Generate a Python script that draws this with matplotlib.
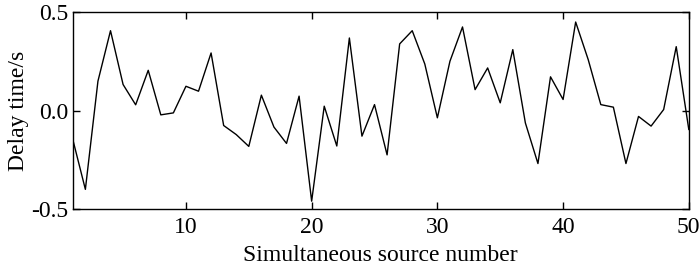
import matplotlib
matplotlib.use("Agg")
import matplotlib.pyplot as plt

plt.rcParams['font.family'] = ['Liberation Serif', 'DejaVu Serif']
plt.rcParams['axes.unicode_minus'] = False

source_number = list(range(1, 51))
delay_time = [-0.147, -0.40, 0.149, 0.405, 0.132, 0.029, 0.204, -0.022, -0.012, 0.123,
              0.098, 0.292, -0.076, -0.122, -0.182, 0.078, -0.084, -0.167, 0.073, -0.46,
              0.022, -0.18, 0.368, -0.130, 0.030, -0.225, 0.338, 0.405, 0.236, -0.037,
              0.25, 0.424, 0.106, 0.216, 0.039, 0.309, -0.063, -0.269, 0.171, 0.056,
              0.449, 0.258, 0.030, 0.017, -0.269, -0.030, -0.079, 0.005, 0.324, -0.096]
x_ticks = [10, 20, 30, 40, 50]
y_ticks = [-0.5, 0.0, 0.5]
y_tick_labels = ['-0.5', '0.0', '0.5']

fig = plt.figure(figsize=(7, 2.66), dpi=100)
ax = fig.add_axes([0.104, 0.214, 0.880, 0.741])
ax.plot(source_number, delay_time, color='black', linewidth=1.0)
ax.set_xlim(1, 50)
ax.set_ylim(-0.5, 0.5)
ax.set_xticks(x_ticks)
ax.set_yticks(y_ticks)
ax.set_yticklabels(y_tick_labels)
ax.tick_params(direction='in', top=True, right=True, labelsize=17, length=5, width=1, pad=3)
ax.tick_params(axis='x', pad=6)
for s in ax.spines.values():
    s.set_linewidth(1.0)
ax.set_xlabel('Simultaneous source number', fontsize=17, labelpad=5)
ax.set_ylabel('Delay time/s', fontsize=17, labelpad=2)
fig.savefig('out.png', dpi=100)
